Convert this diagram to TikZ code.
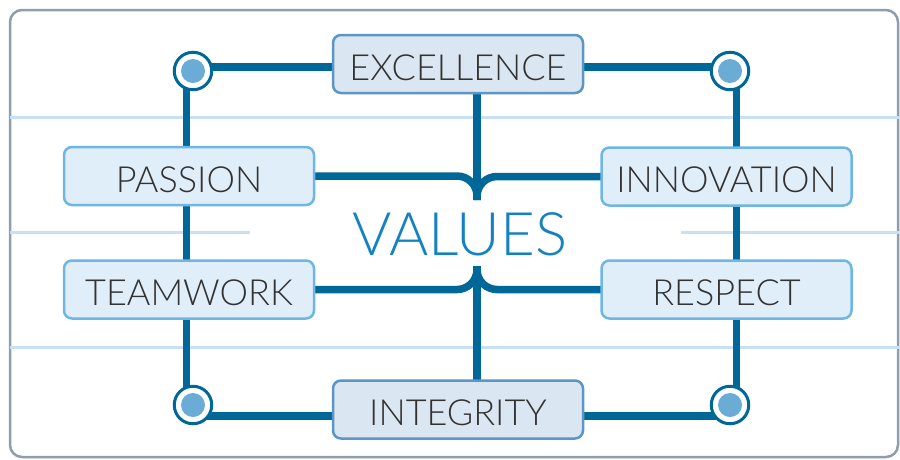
\documentclass[tikz,border=0pt]{standalone}
\usepackage{fontspec}
\setmainfont{Lato Light}
\usetikzlibrary{backgrounds}

\definecolor{linkblue}{RGB}{0,104,152}
\definecolor{dotblue}{RGB}{106,172,214}
\definecolor{boxfill}{RGB}{223,238,249}
\definecolor{boxedge}{RGB}{110,182,228}
\definecolor{keyfill}{RGB}{218,230,241}
\definecolor{keyedge}{RGB}{92,150,196}
\definecolor{guideblue}{RGB}{200,224,243}
\definecolor{framegray}{RGB}{143,157,172}
\definecolor{labelgray}{RGB}{50,50,50}
\definecolor{titleblue}{RGB}{20,130,192}

\begin{document}
\begin{tikzpicture}[x=1pt, y=-1pt,
		every node/.style={font=\fontsize{36}{42}\selectfont, text=labelgray},
		valuebox/.style={draw=boxedge, fill=boxfill, line width=2.5pt, rounded corners=8pt,
			minimum width=250pt, minimum height=58pt, inner sep=0pt, text height=32pt, text depth=0pt},
		keybox/.style={valuebox, draw=keyedge, fill=keyfill},
		corner/.style={circle, draw=linkblue, fill=white, line width=3pt, minimum size=37.5pt, inner sep=0pt,
			path picture={\fill[dotblue] (path picture bounding box.center) circle (12pt);}},
		link/.style={draw=linkblue, line width=7.5pt},
		guide/.style={draw=guideblue, line width=3pt}]
	\useasboundingbox (0,0) rectangle (900,459);

	\node[keybox] (EXC) at (458,64) {EXCELLENCE};
	\node[valuebox] (PAS) at (189,176) {PASSION};
	\node[valuebox] (INN) at (726.5,176.5) {INNOVATION};
	\node[valuebox] (TEA) at (189,289.5) {TEAMWORK};
	\node[valuebox] (RES) at (726.5,289.5) {RESPECT};
	\node[keybox] (INT) at (458,409.5) {INTEGRITY};
	\node[font=\fontsize{60}{62}\selectfont, text=titleblue] (VAL) at (460,234) {VALUES};

	\node[corner] (TL) at (193,71) {};
	\node[corner] (TR) at (730,71) {};
	\node[corner] (BL) at (193,405) {};
	\node[corner] (BR) at (730,405) {};

	\coordinate (upjoin) at (477,200);
	\coordinate (lowjoin) at (477,266);

	\begin{scope}[on background layer]
		% frame and guide lines
		\draw[framegray, line width=2.5pt, rounded corners=12pt] (10,10) rectangle (898,457);
		\draw[guide] (10,117) -- (900,117);
		\draw[guide] (10,232) -- (250,232);
		\draw[guide] (681,232) -- (900,232);
		\draw[guide] (10,347) -- (900,347);

		% outer ring
		\draw[link] ([xshift=-6.5pt]TL.center) -- ([xshift=-6.5pt]BL.center);
		\draw[link] ([xshift=6.5pt]TR.center) -- ([xshift=6.5pt]BR.center);
		\draw[link] ([yshift=4pt]TL.center) -- ([yshift=4pt]TR.center);
		\draw[link] ([yshift=-11pt]BL.center) -- ([yshift=-11pt]BR.center);

		% centre braces
		\draw[link] (EXC.center -| upjoin) -- (upjoin);
		\draw[link] (INT.center -| lowjoin) -- (lowjoin);
		\draw[link, rounded corners=20pt] (PAS.center) -| (upjoin);
		\draw[link, rounded corners=20pt] (INN.center) -| (upjoin);
		\draw[link, rounded corners=20pt] (TEA.center) -| (lowjoin);
		\draw[link, rounded corners=20pt] (RES.center) -| (lowjoin);
	\end{scope}
\end{tikzpicture}
\end{document}
